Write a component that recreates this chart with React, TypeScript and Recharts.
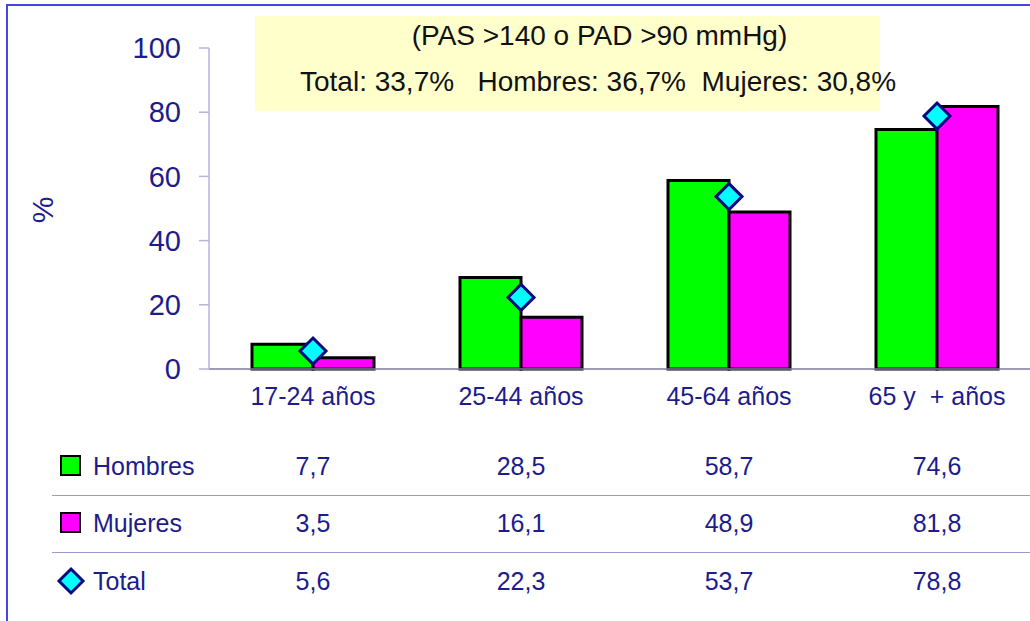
import React from "react";
import { ComposedChart, Bar, Line, XAxis, YAxis } from "recharts";

const categories = ["17-24 años", "25-44 años", "45-64 años", "65 y\u00a0 + años"];
const hombres = [7.7, 28.5, 58.7, 74.6];
const mujeres = [3.5, 16.1, 48.9, 81.8];
const total = [5.6, 22.3, 53.7, 78.8];
const yTicks = [0, 20, 40, 60, 80, 100];
const hombresLabels = ["7,7", "28,5", "58,7", "74,6"];
const mujeresLabels = ["3,5", "16,1", "48,9", "81,8"];
const totalLabels = ["5,6", "22,3", "53,7", "78,8"];
const titleLine1 = "(PAS >140 o PAD >90 mmHg)";
const titleLine2 = "Total: 33,7%   Hombres: 36,7%  Mujeres: 30,8%";
const yLabel = "%";

const data = categories.map((c, i) => ({
  cat: c,
  hombres: hombres[i],
  mujeres: mujeres[i],
  total: total[i],
}));

const NAVY = "#1c1c8c";
const FONT = "'Liberation Sans', Arial, sans-serif";
const CHART_W = 1045;
const PLOT_LEFT = 209;
const PLOT_RIGHT_MARGIN = 4;
const BAND = (CHART_W - PLOT_LEFT - PLOT_RIGHT_MARGIN) / categories.length;

const Diamond = (props: any) => {
  const { cx, cy } = props;
  if (cx == null || cy == null) return null;
  const r = 13;
  return (
    <path
      d={`M${cx},${cy - r} L${cx + r},${cy} L${cx},${cy + r} L${cx - r},${cy} Z`}
      fill="#00ffff"
      stroke="#0a0a80"
      strokeWidth={3}
      strokeLinejoin="miter"
    />
  );
};

const rows = [
  { name: "Hombres", labels: hombresLabels, y: 466, kind: "square", color: "#00ff00" },
  { name: "Mujeres", labels: mujeresLabels, y: 523, kind: "square", color: "#ff00ff" },
  { name: "Total", labels: totalLabels, y: 581, kind: "diamond", color: "#00ffff" },
];

export default function App() {
  return (
    <div
      style={{
        position: "fixed",
        left: 0,
        top: 0,
        width: 1030,
        height: 621,
        overflow: "hidden",
        background: "#ffffff",
        fontFamily: FONT,
      }}
    >
      {/* outer border */}
      <div
        style={{
          position: "absolute",
          left: 6,
          top: 4,
          width: 1100,
          height: 700,
          borderLeft: "2px solid #4646e6",
          borderTop: "2px solid #4646e6",
        }}
      />
      {/* yellow title box */}
      <div
        style={{
          position: "absolute",
          left: 255,
          top: 16,
          width: 625,
          height: 95,
          background: "#ffffcc",
        }}
      />
      <div
        style={{
          position: "absolute",
          left: 262,
          top: 36,
          width: 675,
          textAlign: "center",
          fontSize: 28,
          lineHeight: "0px",
          color: "#111",
          whiteSpace: "pre",
        }}
      >
        {titleLine1}
      </div>
      <div
        style={{
          position: "absolute",
          left: 300,
          top: 82,
          fontSize: 28,
          lineHeight: "0px",
          color: "#111",
          whiteSpace: "pre",
        }}
      >
        {titleLine2}
      </div>
      {/* y-axis title */}
      <div
        style={{
          position: "absolute",
          left: 43,
          top: 210,
          width: 0,
          height: 0,
        }}
      >
        <div
          style={{
            position: "absolute",
            left: -30,
            top: -20,
            width: 60,
            height: 40,
            lineHeight: "40px",
            textAlign: "center",
            fontSize: 30,
            color: NAVY,
            transform: "rotate(-90deg)",
          }}
        >
          {yLabel}
        </div>
      </div>

      <div style={{ position: "absolute", left: 0, top: 0 }}>
        <ComposedChart
          width={CHART_W}
          height={621}
          data={data}
          margin={{ top: 48, right: PLOT_RIGHT_MARGIN, left: 0, bottom: 222 }}
          barGap={0}
          barCategoryGap={43}
        >
          <XAxis
            dataKey="cat"
            height={30}
            tickLine={false}
            axisLine={{ stroke: "#7c7c94", strokeWidth: 1.5 }}
            tick={{ fill: NAVY, fontSize: 25, fontFamily: FONT }}
            tickMargin={12}
            interval={0}
          />
          <YAxis
            width={PLOT_LEFT}
            domain={[0, 100]}
            ticks={yTicks}
            interval={0}
            tickSize={10}
            tickMargin={18}
            axisLine={{ stroke: "#b4b4dc", strokeWidth: 1.5 }}
            tickLine={{ stroke: "#b4b4dc", strokeWidth: 1.5 }}
            tick={{ fill: NAVY, fontSize: 29, fontFamily: FONT }}
          />
          <Bar dataKey="hombres" fill="#00ff00" stroke="#000" strokeWidth={3} isAnimationActive={false} />
          <Bar dataKey="mujeres" fill="#ff00ff" stroke="#000" strokeWidth={3} isAnimationActive={false} />
          <Line
            dataKey="total"
            stroke="none"
            strokeWidth={0}
            dot={<Diamond />}
            activeDot={false}
            isAnimationActive={false}
          />
        </ComposedChart>
      </div>

      {/* data table */}
      {rows.map((r, ri) => (
        <React.Fragment key={r.name}>
          {r.kind === "square" ? (
            <div
              style={{
                position: "absolute",
                left: 60,
                top: r.y - 11,
                width: 17,
                height: 17,
                background: r.color,
                border: "2.5px solid #000",
              }}
            />
          ) : (
            <svg
              style={{ position: "absolute", left: 56, top: r.y - 15 }}
              width={30}
              height={30}
            >
              <path d="M15,3 L27,15 L15,27 L3,15 Z" fill="#00ffff" stroke="#0a0a80" strokeWidth={3} />
            </svg>
          )}
          <div
            style={{
              position: "absolute",
              left: 93,
              top: r.y,
              fontSize: 25,
              lineHeight: "0px",
              color: NAVY,
            }}
          >
            {r.name}
          </div>
          {r.labels.map((t, i) => (
            <div
              key={i}
              style={{
                position: "absolute",
                left: PLOT_LEFT + BAND * (i + 0.5) - 60,
                width: 120,
                textAlign: "center",
                top: r.y,
                fontSize: 25,
                lineHeight: "0px",
                color: NAVY,
              }}
            >
              {t}
            </div>
          ))}
          {ri < rows.length - 1 && (
            <div
              style={{
                position: "absolute",
                left: 52,
                top: r.y + 29,
                width: 1000,
                height: 0,
                borderTop: "1.5px solid #9a9ad2",
              }}
            />
          )}
        </React.Fragment>
      ))}
    </div>
  );
}
